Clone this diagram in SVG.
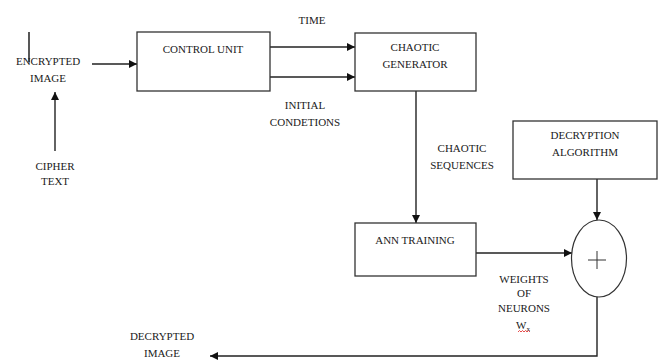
<svg xmlns="http://www.w3.org/2000/svg" width="664" height="360" viewBox="0 0 664 360">
<defs>
<marker id="ah" viewBox="0 0 10 10" refX="10" refY="5" markerWidth="8" markerHeight="8" markerUnits="userSpaceOnUse" orient="auto">
<path d="M0,0 L10,5 L0,10 z" fill="#111"/>
</marker>
</defs>
<style>
.box{fill:#fff;stroke:#333;stroke-width:1.3}
.t{font-family:"Liberation Serif","Times New Roman",serif;font-size:11px;fill:#1a1a1a;text-anchor:middle}
.c{fill:none;stroke:#222;stroke-width:1.4}
</style>
<rect width="664" height="360" fill="#fff"/>
<g id="connectors">
<path class="c" d="M92,64 H137" marker-end="url(#ah)"/>
<path class="c" d="M55,151 V92" marker-end="url(#ah)"/>
<path class="c" d="M270,47 H355" marker-end="url(#ah)"/>
<path class="c" d="M270,77 H355" marker-end="url(#ah)"/>
<path class="c" d="M416,91 V223" marker-end="url(#ah)"/>
<path class="c" d="M597,179 V220" marker-end="url(#ah)"/>
<path class="c" d="M476,253 H572" marker-end="url(#ah)"/>
<path class="c" d="M597,297 V356 H210" marker-end="url(#ah)"/>
</g>
<g id="encrypted-image">
<line x1="29" y1="32" x2="29" y2="62" stroke="#111" stroke-width="1.4"/>
<text class="t" x="48" y="65">ENCRYPTED</text>
<text class="t" x="48" y="82">IMAGE</text>
</g>
<g id="cipher-text">
<text class="t" x="55" y="170">CIPHER</text>
<text class="t" x="55" y="185">TEXT</text>
</g>
<g id="control-unit">
<rect class="box" x="137" y="32" width="133" height="59"/>
<text class="t" x="203" y="53">CONTROL UNIT</text>
</g>
<g id="time-label">
<text class="t" x="312" y="24">TIME</text>
</g>
<g id="initial-conditions-label">
<text class="t" x="305" y="109">INITIAL</text>
<text class="t" x="305" y="126">CONDETIONS</text>
</g>
<g id="chaotic-generator">
<rect class="box" x="355" y="33" width="121" height="58"/>
<text class="t" x="415" y="51">CHAOTIC</text>
<text class="t" x="415" y="68">GENERATOR</text>
</g>
<g id="chaotic-sequences-label">
<text class="t" x="462" y="152">CHAOTIC</text>
<text class="t" x="462" y="169">SEQUENCES</text>
</g>
<g id="decryption-algorithm">
<rect class="box" x="513" y="121" width="144" height="58"/>
<text class="t" x="585" y="139">DECRYPTION</text>
<text class="t" x="585" y="156">ALGORITHM</text>
</g>
<g id="ann-training">
<rect class="box" x="355" y="223" width="121" height="53"/>
<text class="t" x="415" y="244">ANN TRAINING</text>
</g>
<g id="adder">
<ellipse cx="599" cy="258.5" rx="27.5" ry="38.5" fill="#fff" stroke="#333" stroke-width="1.2"/>
<path d="M588,260 H606 M597,251 V269" stroke="#333" stroke-width="1" fill="none"/>
</g>
<g id="weights-label">
<text class="t" x="524" y="283">WEIGHTS</text>
<text class="t" x="524" y="297">OF</text>
<text class="t" x="524" y="312">NEURONS</text>
<text class="t" x="523" y="329">W<tspan font-size="7" dy="2">x</tspan></text>
<path d="M518,332 l1.5,-1.5 l1.5,1.5 l1.5,-1.5 l1.5,1.5 l1.5,-1.5 l1.5,1.5 l1.5,-1.5 l1.5,1.5" stroke="#e02020" stroke-width="0.8" fill="none"/>
</g>
<g id="decrypted-image">
<text class="t" x="162" y="340">DECRYPTED</text>
<text class="t" x="162" y="357">IMAGE</text>
</g>
</svg>
